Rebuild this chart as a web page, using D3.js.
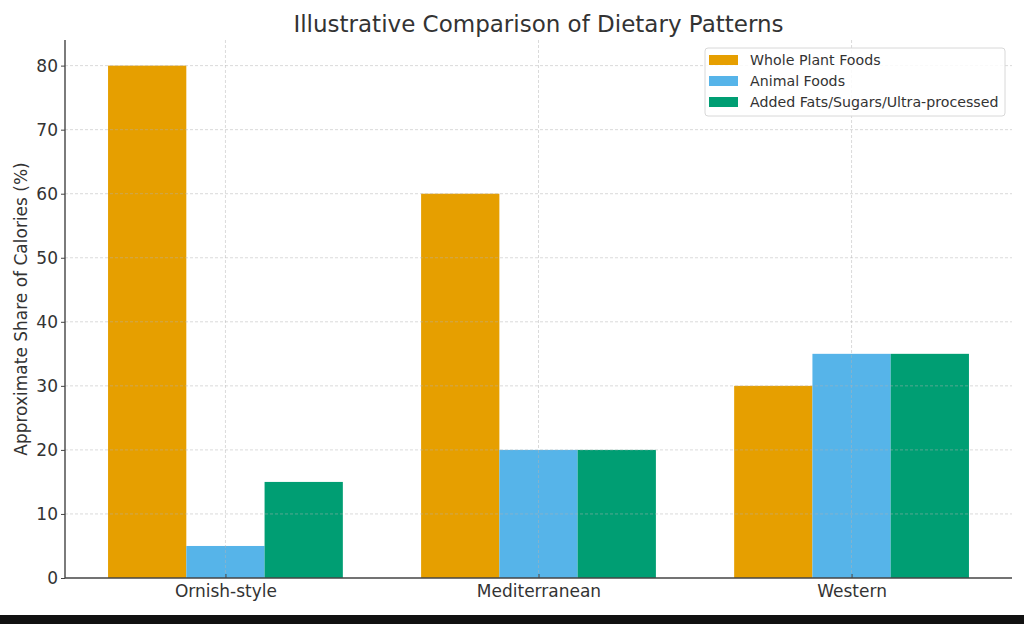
<!DOCTYPE html>
<html><head><meta charset="utf-8">
<script src="https://cdn.jsdelivr.net/npm/d3@7"></script>
<style>
html,body{margin:0;padding:0;background:#fff;}
svg{display:block;font-family:"DejaVu Sans",sans-serif;}
</style></head>
<body>
<script>
const categories = ["Ornish-style", "Mediterranean", "Western"];
const seriesNames = ["Whole Plant Foods", "Animal Foods", "Added Fats/Sugars/Ultra-processed"];
const wholePlant = [80, 60, 30];
const animal = [5, 20, 35];
const addedFats = [15, 20, 35];
const yTicks = [0, 10, 20, 30, 40, 50, 60, 70, 80];
const colors = ["#E69F00", "#56B4E9", "#009E73"];
const seriesValues = [wholePlant, animal, addedFats];

(function () {
const W = 1024, H = 624;
const svg = d3.select("body").append("svg").attr("width", W).attr("height", H);
svg.append("rect").attr("width", W).attr("height", H).attr("fill", "#fff");

const pL = 65, pR = 1012, pT = 40, pB = 578;
const x = d3.scaleLinear().domain([-0.5125, 2.5125]).range([pL, pR]);
const y = d3.scaleLinear().domain([0, 84]).range([pB, pT]);
const bw = 0.25;

// bars
seriesValues.forEach((vals, s) => {
  svg.append("g").selectAll("rect").data(vals).join("rect")
    .attr("x", (d, i) => x(i + (s - 1) * bw - bw / 2))
    .attr("width", (d, i) => x(i + (s - 1) * bw + bw / 2) - x(i + (s - 1) * bw - bw / 2))
    .attr("y", d => y(d))
    .attr("height", d => y(0) - y(d))
    .attr("fill", colors[s]);
});

// grid (on top, faint)
const grid = svg.append("g").attr("stroke", "#b0b0b0").attr("stroke-opacity", 0.6)
  .attr("stroke-dasharray", "3,2").attr("stroke-width", 0.8);
grid.selectAll("line.h").data(yTicks.filter(t => t > 0)).join("line")
  .attr("x1", pL).attr("x2", pR).attr("y1", d => y(d)).attr("y2", d => y(d));
grid.selectAll("line.v").data(categories).join("line")
  .attr("x1", (d, i) => x(i)).attr("x2", (d, i) => x(i)).attr("y1", pT).attr("y2", pB);

// axes
const yAxis = d3.axisLeft(y).tickValues(yTicks).tickSize(4).tickPadding(3);
const gy = svg.append("g").attr("transform", `translate(${pL},0)`).call(yAxis);
gy.select(".domain").attr("stroke", "#444").attr("stroke-width", 1.4).attr("d", `M0,${pB}V${pT}`);
gy.selectAll(".tick line").attr("stroke", "#444");
gy.selectAll(".tick text").attr("font-size", 17).attr("fill", "#333").attr("font-family", "DejaVu Sans");

const xAxis = d3.axisBottom(x).tickValues([0, 1, 2]).tickFormat(i => categories[i]).tickSize(4).tickPadding(3);
const gx = svg.append("g").attr("transform", `translate(0,${pB})`).call(xAxis);
gx.select(".domain").attr("stroke", "#444").attr("stroke-width", 1.4).attr("d", `M${pL},0H${pR}`);
gx.selectAll(".tick line").attr("stroke", "#444").attr("y1", -4).attr("y2", 0);
gx.selectAll(".tick text").attr("font-size", 17).attr("fill", "#333").attr("font-family", "DejaVu Sans");

// title
svg.append("text").attr("x", (pL + pR) / 2).attr("y", 32).attr("text-anchor", "middle")
  .attr("font-size", 23).attr("fill", "#333").text("Illustrative Comparison of Dietary Patterns");

// y label
svg.append("text").attr("transform", `translate(27,${(pT + pB) / 2}) rotate(-90)`)
  .attr("text-anchor", "middle").attr("font-size", 17).attr("fill", "#333")
  .text("Approximate Share of Calories (%)");

// legend
const lg = svg.append("g");
lg.append("rect").attr("x", 705).attr("y", 48).attr("width", 300).attr("height", 68).attr("rx", 3)
  .attr("fill", "#fff").attr("fill-opacity", 0.85).attr("stroke", "#d8d8d8");
seriesNames.forEach((n, i) => {
  lg.append("rect").attr("x", 709).attr("y", 55 + i * 21).attr("width", 29).attr("height", 10).attr("fill", colors[i]);
  lg.append("text").attr("x", 750).attr("y", 65 + i * 21).attr("font-size", 14.2).attr("fill", "#333").text(n);
});

// bottom black strip
svg.append("rect").attr("x", 0).attr("y", 615).attr("width", W).attr("height", 9).attr("fill", "#111");
})();
</script>
</body></html>
